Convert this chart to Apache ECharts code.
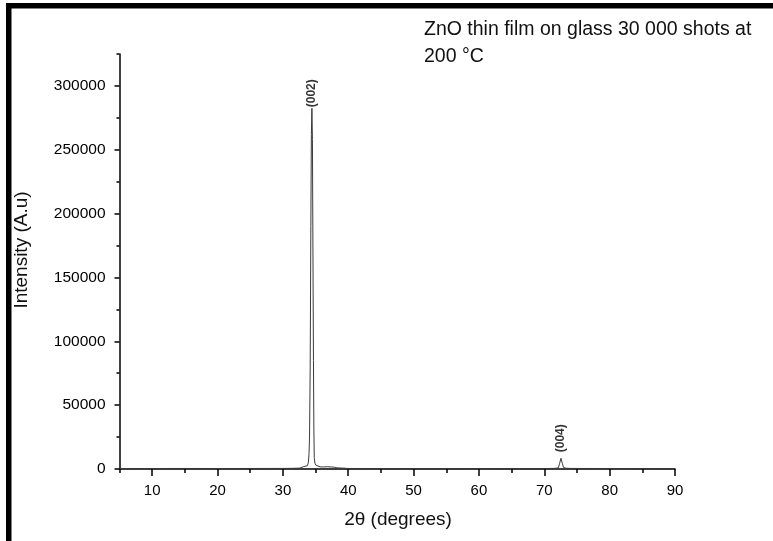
<!DOCTYPE html>
<html>
<head>
<meta charset="utf-8">
<script src="https://cdn.jsdelivr.net/npm/echarts@6/dist/echarts.min.js"></script>
<style>
html,body{margin:0;padding:0;background:#fff;}
#chart{width:773px;height:541px;}
</style>
</head>
<body>
<div id="chart"></div>
<script>
// ---- data ----
const twoTheta = [5, 10, 15, 20, 25, 30, 31.5, 32.6, 32.9, 33.2, 33.5, 33.75, 33.9, 34.0,
  34.08, 34.18, 34.28, 34.36, 34.44, 34.52, 34.6, 34.68, 34.74, 34.8, 34.9, 35.05, 35.3,
  35.7, 36.2, 36.8, 37.4, 37.9, 38.3, 38.9, 39.4, 39.8, 41, 45, 50, 55, 60, 65, 70, 71.6,
  72.15, 72.35, 72.55, 72.75, 72.95, 73.3, 74, 78, 82, 86, 90];
const intensity = [400, 380, 420, 390, 410, 450, 520, 700, 1500, 1900, 1700, 2600, 5000, 12000,
  25000, 80000, 190000, 262000, 282500, 258000, 170000, 85000, 32000, 9000, 4600, 3000, 2000,
  1700, 1600, 1750, 1600, 1400, 900, 750, 650, 450, 400, 380, 350, 360, 340, 330, 380, 500,
  900, 4500, 8400, 4500, 1200, 600, 450, 400, 380, 370, 360];

const peakLabelText = ['(002)', '(004)'];
const peakLabelX = [34.44, 72.55];
const peakLabelY = [282500, 8400];

const xTickValues = [10, 20, 30, 40, 50, 60, 70, 80, 90];
const xMinorTicks = [5, 15, 25, 35, 45, 55, 65, 75, 85];
const yTickValues = [0, 50000, 100000, 150000, 200000, 250000, 300000];
const yMinorTicks = [25000, 75000, 125000, 175000, 225000, 275000, 325000];

const titleLines = ['ZnO thin film on glass 30 000 shots at', '200 °C'];
const xAxisName = '2θ (degrees)';
const yAxisName = 'Intensity (A.u)';
// --------------------------------------

const FONT = 'Liberation Sans, Arial, sans-serif';
const lineData = twoTheta.map((x, i) => [x, intensity[i]]);
const labelDistances = [1, 6];
const labelData = peakLabelX.map((x, i) => ({
  value: [x, peakLabelY[i]],
  label: { formatter: peakLabelText[i], distance: labelDistances[i] }
}));

const axisLineStyle = { color: '#000', width: 1.5 };

const chart = echarts.init(document.getElementById('chart'), null, { renderer: 'canvas' });
chart.setOption({
  animation: false,
  backgroundColor: '#fff',
  title: {
    text: titleLines.join('\n'),
    left: 424, top: 16, padding: 0,
    textStyle: { fontFamily: FONT, fontSize: 19.5, fontWeight: 'normal', color: '#111', lineHeight: 27 }
  },
  grid: { left: 119.5, right: 98, top: 54, bottom: 72, containLabel: false },
  xAxis: [{
    type: 'value', min: 5, max: 90, position: 'bottom',
    axisLine: { show: true, onZero: false, lineStyle: axisLineStyle },
    axisTick: { show: true, length: 7, lineStyle: axisLineStyle, customValues: xTickValues },
    axisLabel: { show: true, customValues: xTickValues, margin: 14, fontSize: 15, fontFamily: FONT, color: '#000', formatter: v => String(v) },
    splitLine: { show: false }
  }, {
    type: 'value', min: 5, max: 90, position: 'bottom',
    axisLine: { show: false },
    axisTick: { show: true, length: 4, lineStyle: axisLineStyle, customValues: xMinorTicks },
    axisLabel: { show: false },
    splitLine: { show: false }
  }],
  yAxis: [{
    type: 'value', min: 0, max: 325000, position: 'left',
    axisLine: { show: true, onZero: false, lineStyle: axisLineStyle },
    axisTick: { show: true, length: 5, lineStyle: axisLineStyle, customValues: yTickValues },
    axisLabel: { show: true, customValues: yTickValues, margin: 14, fontSize: 15.5, fontFamily: FONT, color: '#000', formatter: v => String(v) },
    splitLine: { show: false }
  }, {
    type: 'value', min: 0, max: 325000, position: 'left',
    axisLine: { show: false },
    axisTick: { show: true, length: 3, lineStyle: axisLineStyle, customValues: yMinorTicks },
    axisLabel: { show: false },
    splitLine: { show: false }
  }],
  graphic: [
    { type: 'rect', shape: { x: 6, y: 3, width: 5.5, height: 560 }, style: { fill: '#000' }, silent: true },
    { type: 'rect', shape: { x: 6, y: 3, width: 800, height: 5.5 }, style: { fill: '#000' }, silent: true },
    { type: 'text', x: 21.5, y: 250, rotation: Math.PI / 2,
      style: { text: yAxisName, fontFamily: FONT, fontSize: 19, fill: '#111', align: 'center', verticalAlign: 'middle' } },
    { type: 'text', x: 398, y: 520,
      style: { text: xAxisName, fontFamily: FONT, fontSize: 19, fill: '#111', align: 'center', verticalAlign: 'middle' } }
  ],
  series: [{
    type: 'line',
    xAxisIndex: 0, yAxisIndex: 0,
    data: lineData,
    showSymbol: false,
    symbol: 'none',
    lineStyle: { color: '#3a3a3a', width: 1 },
    z: 3
  }, {
    type: 'scatter',
    xAxisIndex: 0, yAxisIndex: 0,
    data: labelData,
    symbolSize: 0,
    label: {
      show: true, position: 'top', rotate: 90, align: 'left', verticalAlign: 'middle',
      fontSize: 12, fontWeight: 'bold', fontFamily: FONT, color: '#000'
    },
    z: 4
  }]
});
</script>
</body>
</html>
